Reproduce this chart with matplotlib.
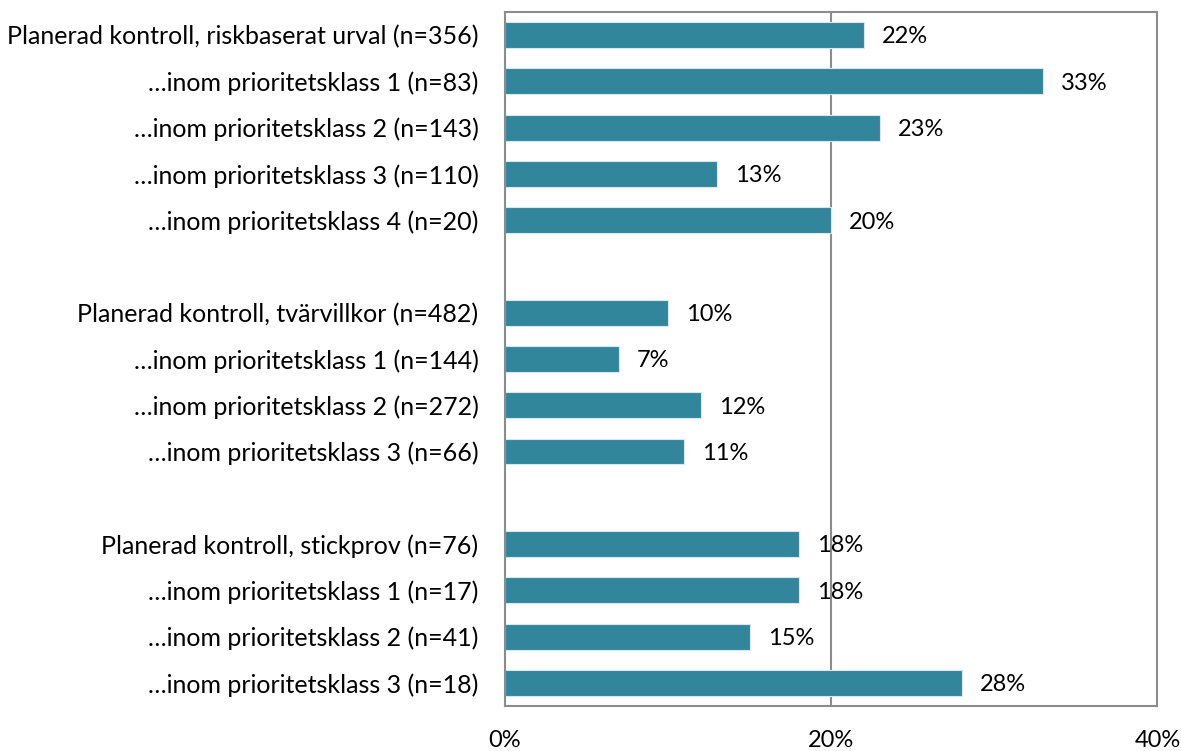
import numpy as np
import matplotlib.pyplot as plt

plt.rcParams['font.family'] = ['Lato', 'DejaVu Sans']

labels = ["Planerad kontroll, riskbaserat urval (n=356)",
          "…inom prioritetsklass 1 (n=83)",
          "…inom prioritetsklass 2 (n=143)",
          "…inom prioritetsklass 3 (n=110)",
          "…inom prioritetsklass 4 (n=20)",
          "",
          "Planerad kontroll, tvärvillkor (n=482)",
          "…inom prioritetsklass 1 (n=144)",
          "…inom prioritetsklass 2 (n=272)",
          "…inom prioritetsklass 3 (n=66)",
          "",
          "Planerad kontroll, stickprov (n=76)",
          "…inom prioritetsklass 1 (n=17)",
          "…inom prioritetsklass 2 (n=41)",
          "…inom prioritetsklass 3 (n=18)"]
values = [22, 33, 23, 13, 20, None, 10, 7, 12, 11, None, 18, 18, 15, 28]

fig = plt.figure(figsize=(11.81, 7.51), dpi=100)
ax = fig.add_axes([0.4276, 0.060, 0.5525, 0.924])

grey = '#8c8c8c'
ax.axvline(20, color=grey, lw=1.5, zorder=0)

for i, v in enumerate(values):
    if v is None:
        continue
    ax.barh(i, v, height=0.56, color='#31869b', edgecolor='#d8e8ec', lw=0.8, zorder=2)
    ax.text(v + 1.1, i + 0.04, f"{v}%", va='center', ha='left', fontsize=17, color='black')

ax.set_ylim(14.5, -0.5)
ax.set_xlim(0, 40)
ax.set_yticks(range(len(labels)))
ax.set_yticklabels(labels, fontsize=18)
ax.set_xticks([0, 20, 40])
ax.set_xticklabels(['0%', '20%', '40%'], fontsize=17)
ax.tick_params(length=0)
ax.tick_params(axis='y', pad=19)
ax.tick_params(axis='x', pad=17)
for s in ax.spines.values():
    s.set_color(grey)
    s.set_linewidth(1.5)

fig.savefig('out.png', dpi=100)
